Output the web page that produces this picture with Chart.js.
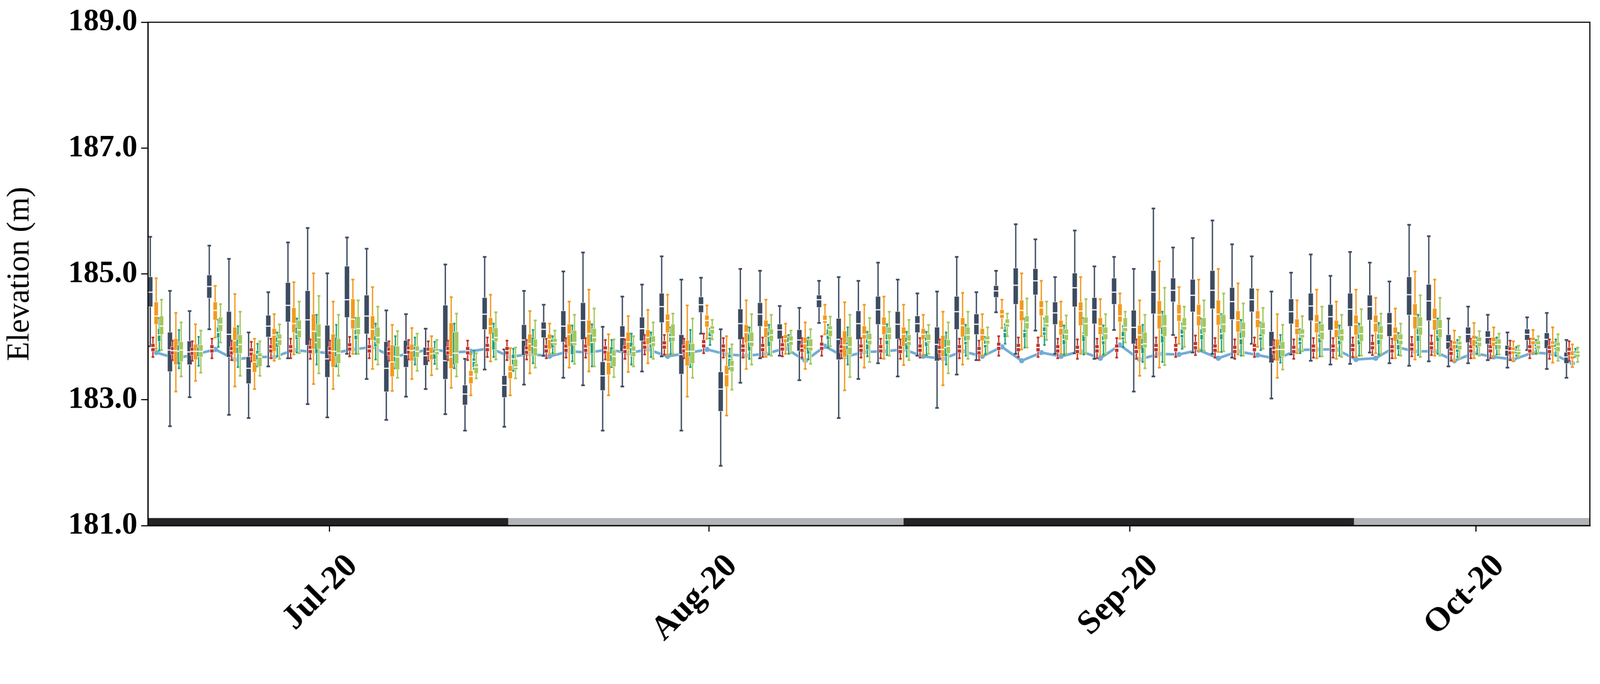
<!DOCTYPE html>
<html><head><meta charset="utf-8">
<script src="https://cdn.jsdelivr.net/npm/chart.js@4/dist/chart.umd.min.js"></script>
<style>html,body{margin:0;padding:0;background:#fff;overflow:hidden}#wrap{width:4262px;height:1751px;overflow:hidden;transform-origin:0 0}canvas{display:block}</style>
</head><body><div id="wrap"><canvas id="c" width="4262" height="1751"></canvas></div>
<script>
(function(){const w=document.getElementById('wrap');const s=Math.min(window.innerWidth/4262,window.innerHeight/1751);if(s&&Math.abs(s-1)>0.001)w.style.transform='scale('+s+')';})();
const monthTickPos=[9.1,28.4,49.8,67.4];
const monthLabels=['Jul-20','Aug-20','Sep-20','Oct-20'];
const yTicks=[181,183,185,187,189];
const bandStart=[-0.12,18.2,38.3,61.2];
const bandEnd=[18.2,38.3,61.2,73.2];
const bandColor=['#232325','#b1b3b7','#232325','#b1b3b7'];

const navyMax=[185.59,184.73,184.41,185.45,185.24,184.07,184.71,185.50,185.73,185.01,185.58,185.40,184.42,184.36,184.13,185.15,183.65,185.27,183.80,184.73,184.51,185.04,185.34,184.16,184.64,184.83,185.28,184.91,184.94,184.12,185.08,185.05,184.49,184.46,184.89,184.95,184.89,185.18,184.91,184.69,184.72,185.27,184.71,185.05,185.79,185.55,184.95,185.69,185.12,185.27,185.08,186.04,185.42,185.57,185.85,185.47,185.28,184.72,185.02,185.31,184.97,185.35,185.18,184.88,185.78,185.60,184.29,184.48,184.35,184.07,184.31,184.38,183.95];
const navyQ3=[184.95,184.07,183.93,184.98,184.40,183.68,184.34,184.86,184.73,184.18,185.12,184.66,183.92,183.94,183.83,184.50,183.23,184.62,183.38,184.19,184.23,184.41,184.54,183.60,184.17,184.31,184.69,184.03,184.63,183.44,184.44,184.54,184.20,184.11,184.66,184.29,184.41,184.64,184.40,184.33,184.15,184.64,184.36,184.81,185.09,185.08,184.55,185.01,184.62,184.93,184.42,185.05,184.93,184.91,185.05,184.78,184.77,184.08,184.60,184.69,184.51,184.69,184.66,184.38,184.95,184.83,184.03,184.15,184.09,183.86,184.12,184.06,183.75];
const navyMed=[184.71,183.79,183.76,184.80,184.04,183.50,184.17,184.50,184.27,183.65,184.59,184.33,183.50,183.72,183.70,183.62,183.09,184.36,183.23,183.95,184.12,184.17,184.26,183.38,183.99,184.13,184.48,183.72,184.51,183.17,184.21,184.36,184.11,183.95,184.59,183.96,184.21,184.43,184.20,184.21,183.88,184.40,184.20,184.73,184.82,184.89,184.38,184.78,184.43,184.71,184.15,184.71,184.74,184.66,184.74,184.56,184.59,183.84,184.40,184.49,184.32,184.44,184.48,184.21,184.67,184.57,183.92,184.04,183.99,183.79,184.04,183.96,183.68];
const navyQ1=[184.48,183.45,183.56,184.62,183.68,183.26,184.00,184.24,183.87,183.36,184.31,184.05,183.13,183.52,183.55,183.33,182.92,184.12,183.04,183.71,183.99,183.92,183.96,183.15,183.77,183.94,184.23,183.41,184.39,182.82,183.96,184.17,183.97,183.78,184.47,183.64,183.96,184.20,183.97,184.07,183.62,184.12,184.04,184.63,184.52,184.67,184.20,184.48,184.21,184.52,183.89,184.37,184.56,184.40,184.45,184.28,184.40,183.59,184.21,184.26,184.11,184.17,184.27,184.01,184.35,184.26,183.81,183.91,183.89,183.70,183.95,183.82,183.58];
const navyMin=[183.85,182.58,183.04,184.12,182.76,182.71,183.53,183.66,182.93,182.72,183.73,183.33,182.68,183.05,183.17,182.77,182.51,183.48,182.57,183.24,183.70,183.35,183.23,182.51,183.21,183.45,183.69,182.51,184.05,181.95,183.27,183.66,183.70,183.31,184.22,182.71,183.33,183.58,183.37,183.70,182.87,183.40,183.63,184.39,183.73,184.10,183.73,183.74,183.65,184.11,183.13,183.37,184.03,183.75,183.73,183.67,183.89,183.02,183.72,183.62,183.56,183.57,183.75,183.58,183.54,183.61,183.53,183.58,183.63,183.51,183.79,183.49,183.35];

const orangeMax=[184.93,184.38,184.20,184.81,184.68,183.97,184.36,184.87,185.01,184.56,184.91,184.79,184.19,184.14,184.01,184.63,183.72,184.67,183.82,184.41,184.21,184.56,184.75,184.04,184.33,184.43,184.67,184.50,184.50,184.01,184.58,184.59,184.21,184.23,184.51,184.55,184.51,184.64,184.51,184.35,184.40,184.70,184.36,184.59,185.01,184.89,184.56,184.95,184.60,184.69,184.58,185.20,184.79,184.91,185.08,184.85,184.75,184.36,184.58,184.75,184.56,184.75,184.62,184.45,185.04,184.91,184.10,184.22,184.15,183.93,184.11,184.15,183.88];
const orangeQ3=[184.55,183.97,183.88,184.55,184.15,183.73,184.13,184.46,184.36,184.04,184.60,184.33,183.87,183.88,183.83,184.22,183.46,184.30,183.54,184.04,184.04,184.20,184.26,183.77,184.07,184.11,184.36,183.94,184.34,183.54,184.19,184.26,184.03,183.99,184.34,184.09,184.17,184.31,184.15,184.13,184.02,184.30,184.13,184.43,184.58,184.57,184.26,184.55,184.30,184.52,184.18,184.57,184.51,184.51,184.58,184.41,184.41,183.96,184.28,184.35,184.26,184.34,184.34,184.15,184.52,184.45,183.93,184.02,183.99,183.83,183.99,183.93,183.77];
const orangeMed=[184.33,183.78,183.77,184.42,183.94,183.60,184.03,184.21,184.09,183.77,184.28,184.12,183.60,183.78,183.73,183.68,183.37,184.17,183.45,183.89,183.96,184.04,184.05,183.60,183.92,183.99,184.26,183.77,184.26,183.40,184.07,184.15,183.97,183.89,184.26,183.87,184.04,184.18,184.04,184.04,183.80,184.18,184.03,184.36,184.42,184.46,184.14,184.41,184.17,184.33,184.03,184.35,184.36,184.34,184.36,184.26,184.28,183.80,184.14,184.23,184.12,184.20,184.22,184.05,184.33,184.28,183.88,183.96,183.92,183.78,183.94,183.88,183.70];
const orangeQ1=[184.20,183.56,183.64,184.27,183.74,183.44,183.77,184.07,183.81,183.52,184.13,183.95,183.37,183.62,183.64,183.50,183.26,184.04,183.34,183.77,183.81,183.85,183.85,183.40,183.80,183.88,184.07,183.54,184.16,183.21,183.91,183.99,183.91,183.80,184.22,183.68,183.97,184.04,183.85,183.96,183.69,184.00,183.94,184.30,184.26,184.34,184.03,184.18,184.04,184.24,183.80,184.13,184.25,184.18,184.19,184.08,184.15,183.62,184.04,184.07,183.99,184.03,184.08,183.93,184.13,184.11,183.81,183.85,183.85,183.73,183.88,183.83,183.65];
const orangeMin=[183.81,183.13,183.30,183.99,183.21,183.17,183.62,183.72,183.25,183.17,183.73,183.49,183.14,183.33,183.39,183.19,183.07,183.61,183.07,183.42,183.73,183.51,183.45,183.07,183.44,183.58,183.72,183.05,183.97,182.75,183.49,183.68,183.73,183.49,184.04,183.15,183.51,183.65,183.55,183.72,183.23,183.56,183.70,184.14,183.80,184.01,183.73,183.73,183.70,183.97,183.38,183.51,183.89,183.78,183.76,183.72,183.84,183.35,183.74,183.66,183.65,183.68,183.74,183.66,183.64,183.70,183.61,183.66,183.69,183.61,183.74,183.59,183.52];

const tealMax=[184.30,184.11,184.00,184.27,184.17,183.89,184.07,184.29,184.35,184.19,184.30,184.21,184.01,183.99,183.92,184.21,183.78,184.21,183.81,184.11,184.01,184.18,184.20,183.95,184.05,184.07,184.15,184.11,184.13,183.81,184.15,184.19,184.03,183.99,184.19,184.15,184.08,184.20,184.08,184.08,184.07,184.19,184.00,184.20,184.29,184.29,184.18,184.30,184.18,184.17,184.19,184.40,184.21,184.29,184.36,184.27,184.23,184.03,184.12,184.23,184.18,184.21,184.22,184.06,184.35,184.29,183.95,183.99,183.99,183.84,183.95,183.96,183.81];
const tealQ3=[184.13,183.87,183.83,184.15,183.96,183.78,183.99,184.15,184.07,183.99,184.11,184.01,183.85,183.84,183.80,184.07,183.66,184.07,183.72,183.99,183.96,184.05,184.04,183.84,183.91,184.00,184.05,183.89,184.07,183.72,184.04,184.08,183.99,183.95,184.12,183.91,183.96,184.04,183.99,183.99,183.96,184.01,183.94,184.12,184.11,184.15,184.04,184.07,184.01,184.08,183.97,184.15,184.12,184.12,184.13,184.07,184.04,183.87,183.99,184.04,184.01,184.04,184.04,183.96,184.13,184.11,183.87,183.92,183.92,183.80,183.88,183.88,183.77];
const tealMed=[184.03,183.77,183.77,184.07,183.84,183.72,183.91,184.04,183.91,183.77,184.03,183.93,183.69,183.79,183.74,183.74,183.61,183.96,183.65,183.85,183.91,183.91,183.91,183.72,183.83,183.89,184.00,183.77,184.00,183.66,183.92,184.01,183.91,183.84,184.03,183.87,183.89,183.95,183.91,183.93,183.83,183.93,183.88,184.07,184.07,184.08,183.96,184.04,183.94,184.00,183.88,184.03,184.04,184.04,184.05,183.97,184.00,183.80,183.93,183.99,183.95,183.96,183.96,183.88,184.03,184.03,183.81,183.88,183.88,183.77,183.84,183.83,183.74];
const tealQ1=[183.93,183.56,183.69,183.99,183.74,183.64,183.84,183.96,183.74,183.69,183.96,183.85,183.61,183.68,183.65,183.56,183.52,183.80,183.56,183.73,183.83,183.72,183.74,183.61,183.74,183.83,183.92,183.69,183.96,183.53,183.78,183.85,183.85,183.73,183.96,183.80,183.80,183.88,183.80,183.85,183.69,183.88,183.83,183.99,183.99,184.03,183.88,183.93,183.88,183.96,183.74,183.91,183.99,183.96,183.96,183.88,183.95,183.66,183.88,183.91,183.88,183.88,183.88,183.80,183.93,183.93,183.76,183.83,183.80,183.74,183.81,183.80,183.72];
const tealMin=[183.78,183.50,183.54,183.84,183.52,183.53,183.69,183.75,183.56,183.53,183.73,183.64,183.50,183.56,183.57,183.50,183.49,183.68,183.46,183.58,183.74,183.61,183.53,183.52,183.56,183.68,183.73,183.52,183.87,183.49,183.65,183.72,183.73,183.64,183.83,183.56,183.69,183.71,183.69,183.71,183.56,183.70,183.73,183.89,183.83,183.87,183.72,183.72,183.72,183.84,183.60,183.60,183.81,183.78,183.76,183.70,183.79,183.59,183.74,183.69,183.70,183.70,183.72,183.71,183.71,183.73,183.68,183.73,183.72,183.70,183.73,183.70,183.68];

const lgMax=[184.59,184.23,184.10,184.52,184.40,183.93,184.20,184.56,184.65,184.35,184.58,184.48,184.09,184.05,183.95,184.37,183.74,184.39,183.83,184.26,184.10,184.35,184.45,183.96,184.01,184.23,184.37,184.29,184.27,183.88,184.36,184.35,184.10,184.12,184.32,184.35,184.30,184.40,184.27,184.19,184.23,184.40,184.15,184.37,184.61,184.56,184.34,184.60,184.36,184.40,184.35,184.78,184.48,184.58,184.69,184.53,184.46,184.19,184.33,184.48,184.35,184.44,184.37,184.21,184.66,184.62,184.00,184.09,184.05,183.86,184.01,184.04,183.83];
const lgQ3=[184.33,183.92,183.87,184.31,184.03,183.74,184.04,184.26,184.20,183.97,184.32,184.15,183.85,183.85,183.81,184.08,183.57,184.14,183.64,183.96,183.97,184.10,184.13,183.79,183.85,184.01,184.20,183.89,184.17,183.62,184.07,184.12,184.01,183.96,184.17,184.00,184.05,184.15,184.03,184.04,183.95,184.15,184.01,184.28,184.33,184.34,184.12,184.31,184.15,184.30,184.07,184.35,184.30,184.30,184.35,184.23,184.23,183.92,184.12,184.20,184.12,184.17,184.17,184.04,184.31,184.27,183.92,183.99,183.96,183.80,183.93,183.91,183.77];
const lgMed=[184.17,183.79,183.77,184.20,183.88,183.68,183.96,184.11,183.99,183.74,184.13,183.99,183.68,183.77,183.77,183.74,183.52,183.99,183.52,183.83,183.91,183.91,183.99,183.69,183.77,183.91,184.00,183.77,184.12,183.53,183.92,184.03,183.93,183.84,184.11,183.84,183.95,184.05,183.93,183.94,183.85,184.03,183.95,184.21,184.23,184.21,184.04,184.21,184.05,184.15,183.89,184.17,184.17,184.15,184.20,184.11,184.13,183.80,184.04,184.08,184.03,184.05,184.05,183.95,184.16,184.13,183.87,183.92,183.88,183.77,183.87,183.85,183.73];
const lgQ1=[184.04,183.61,183.68,184.09,183.74,183.53,183.87,183.99,183.81,183.58,184.04,183.89,183.48,183.68,183.72,183.58,183.42,183.93,183.48,183.70,183.87,183.87,183.92,183.53,183.69,183.85,183.93,183.58,184.05,183.45,183.85,183.93,183.87,183.78,184.01,183.72,183.88,183.96,183.87,183.91,183.74,183.95,183.89,184.16,184.13,184.16,183.95,184.01,183.96,184.09,183.83,184.01,184.11,184.07,184.07,183.99,184.04,183.69,183.99,183.96,183.94,183.93,183.96,183.88,184.03,183.99,183.80,183.85,183.81,183.72,183.81,183.77,183.68];
const lgMin=[183.79,183.37,183.43,183.91,183.38,183.38,183.65,183.74,183.42,183.38,183.73,183.56,183.35,183.46,183.49,183.37,183.34,183.64,183.34,183.51,183.73,183.57,183.53,183.36,183.53,183.65,183.73,183.35,183.96,183.16,183.56,183.70,183.74,183.57,183.85,183.36,183.60,183.70,183.63,183.73,183.42,183.65,183.74,184.01,183.83,183.95,183.73,183.74,183.73,183.91,183.50,183.55,183.84,183.78,183.77,183.70,183.81,183.48,183.77,183.69,183.68,183.70,183.73,183.70,183.68,183.70,183.65,183.70,183.72,183.68,183.74,183.62,183.60];

const redMax=[183.99,183.94,183.93,183.97,183.94,183.92,183.97,183.97,183.96,183.94,184.00,183.97,183.93,183.95,183.93,183.94,183.94,183.99,183.94,183.95,183.97,183.98,183.98,183.95,183.96,184.03,184.03,183.97,184.05,183.98,183.98,183.99,184.00,183.98,184.01,183.97,183.98,183.97,183.96,183.98,183.96,183.97,183.94,184.01,183.99,183.99,183.97,183.96,183.97,183.98,183.96,183.99,183.99,184.02,183.98,183.96,183.99,183.95,183.96,183.98,183.98,183.99,184.02,183.97,184.00,184.02,183.93,183.97,183.97,183.94,183.97,183.96,183.93];
const redQ3=[183.89,183.84,183.83,183.87,183.84,183.82,183.87,183.87,183.86,183.84,183.90,183.87,183.83,183.85,183.83,183.84,183.84,183.89,183.84,183.85,183.87,183.88,183.88,183.85,183.86,183.93,183.93,183.87,183.95,183.88,183.88,183.89,183.90,183.88,183.91,183.87,183.88,183.87,183.86,183.88,183.86,183.87,183.84,183.91,183.89,183.89,183.87,183.86,183.87,183.88,183.86,183.89,183.89,183.92,183.88,183.86,183.89,183.85,183.86,183.88,183.88,183.89,183.92,183.87,183.90,183.92,183.83,183.87,183.87,183.84,183.87,183.86,183.83];
const redMed=[183.83,183.78,183.77,183.81,183.78,183.76,183.81,183.81,183.80,183.78,183.84,183.81,183.77,183.79,183.77,183.78,183.78,183.83,183.78,183.79,183.81,183.82,183.82,183.79,183.80,183.87,183.87,183.81,183.89,183.82,183.82,183.83,183.84,183.82,183.85,183.81,183.82,183.81,183.80,183.82,183.80,183.81,183.78,183.85,183.83,183.83,183.81,183.80,183.81,183.82,183.80,183.83,183.83,183.86,183.82,183.80,183.83,183.79,183.80,183.82,183.82,183.83,183.86,183.81,183.84,183.86,183.77,183.81,183.81,183.78,183.81,183.80,183.77];
const redQ1=[183.77,183.72,183.71,183.75,183.72,183.70,183.75,183.75,183.74,183.72,183.78,183.75,183.71,183.73,183.71,183.72,183.72,183.77,183.72,183.73,183.75,183.76,183.76,183.73,183.74,183.81,183.81,183.75,183.83,183.76,183.76,183.77,183.78,183.76,183.79,183.75,183.76,183.75,183.74,183.76,183.74,183.75,183.72,183.79,183.77,183.77,183.75,183.74,183.75,183.76,183.74,183.77,183.77,183.80,183.76,183.74,183.77,183.73,183.74,183.76,183.76,183.77,183.80,183.75,183.78,183.80,183.71,183.75,183.75,183.72,183.75,183.74,183.71];
const redMin=[183.68,183.63,183.62,183.66,183.63,183.61,183.66,183.66,183.65,183.63,183.69,183.66,183.62,183.64,183.62,183.63,183.63,183.68,183.63,183.64,183.66,183.67,183.67,183.64,183.65,183.72,183.72,183.66,183.74,183.67,183.67,183.68,183.69,183.67,183.70,183.66,183.67,183.66,183.65,183.67,183.65,183.66,183.63,183.70,183.68,183.68,183.66,183.65,183.66,183.67,183.65,183.68,183.68,183.71,183.67,183.65,183.68,183.64,183.65,183.67,183.67,183.68,183.71,183.66,183.69,183.71,183.62,183.66,183.66,183.63,183.66,183.65,183.62];

const lineLevel=[183.75,183.66,183.72,183.80,183.64,183.68,183.68,183.79,183.76,183.74,183.80,183.84,183.68,183.74,183.81,183.75,183.77,183.82,183.68,183.73,183.69,183.77,183.75,183.80,183.74,183.80,183.69,183.74,183.80,183.72,183.70,183.73,183.82,183.62,183.85,183.68,183.76,183.77,183.80,183.69,183.65,183.77,183.69,183.84,183.62,183.75,183.69,183.77,183.66,183.87,183.64,183.73,183.72,183.79,183.66,183.77,183.71,183.65,183.79,183.80,183.80,183.64,183.66,183.84,183.77,183.77,183.62,183.74,183.68,183.64,183.75,183.73,183.58];

const series=[
 {off:0,    w:12, color:'#3d4b60', mn:navyMin, q1:navyQ1, md:navyMed, q3:navyQ3, mx:navyMax},
 {off:0.135,w:9,  color:'#c0322c', mn:redMin,  q1:redQ1,  md:redMed,  q3:redQ3,  mx:redMax},
 {off:0.30, w:10, color:'#f39a1e', mn:orangeMin,q1:orangeQ1,md:orangeMed,q3:orangeQ3,mx:orangeMax},
 {off:0.46, w:8,  color:'#17a084', mn:tealMin, q1:tealQ1, md:tealMed, q3:tealQ3, mx:tealMax},
 {off:0.57, w:10, color:'#a3c85b', mn:lgMin,   q1:lgQ1,   md:lgMed,   q3:lgQ3,   mx:lgMax}
];

const boxPlugin={id:'boxes',
 beforeDatasetsDraw(chart){
  const {ctx,scales:{x,y}}=chart;
  ctx.save();
  for(let k=0;k<bandStart.length;k++){
    const x0=x.getPixelForValue(bandStart[k]),x1=x.getPixelForValue(bandEnd[k]);
    const y0=y.getPixelForValue(181.12),y1=y.getPixelForValue(181);
    ctx.fillStyle=bandColor[k];ctx.fillRect(x0,y0,x1-x0,y1-y0);
  }
  ctx.restore();
 },
 afterDatasetsDraw(chart){
  const {ctx,scales:{x,y}}=chart;
  ctx.save();
  series.forEach(s=>{
    for(let i=0;i<s.md.length;i++){
      const px=x.getPixelForValue(i+s.off);
      const ymx=y.getPixelForValue(s.mx[i]),ymn=y.getPixelForValue(s.mn[i]);
      const yq3=y.getPixelForValue(s.q3[i]),yq1=y.getPixelForValue(s.q1[i]),ymd=y.getPixelForValue(s.md[i]);
      ctx.strokeStyle='#ffffff';ctx.lineWidth=6;
      ctx.beginPath();ctx.moveTo(px,ymx);ctx.lineTo(px,ymn);ctx.stroke();
      ctx.strokeStyle=s.color;ctx.lineWidth=3.5;
      ctx.beginPath();ctx.moveTo(px,ymx);ctx.lineTo(px,ymn);ctx.stroke();
      ctx.lineWidth=4.5;
      ctx.beginPath();ctx.moveTo(px-s.w*0.4,ymx);ctx.lineTo(px+s.w*0.4,ymx);
      ctx.moveTo(px-s.w*0.4,ymn);ctx.lineTo(px+s.w*0.4,ymn);ctx.stroke();
      ctx.fillStyle='#ffffff';
      ctx.fillRect(px-s.w/2-1,yq3-1,s.w+2,yq1-yq3+2);
      ctx.fillStyle=s.color;
      ctx.fillRect(px-s.w/2,yq3,s.w,yq1-yq3);
      ctx.strokeStyle='#ffffff';ctx.lineWidth=3;
      ctx.beginPath();ctx.moveTo(px-s.w/2-1,ymd);ctx.lineTo(px+s.w/2+1,ymd);ctx.stroke();
    }
  });
  ctx.restore();
 },
 afterDraw(chart){
  const {ctx,chartArea:a}=chart;
  ctx.save();ctx.strokeStyle='#000';ctx.lineWidth=3;
  ctx.strokeRect(a.left,a.top,a.right-a.left,a.bottom-a.top);ctx.restore();
 }
};

new Chart(document.getElementById('c'),{
 type:'line',
 data:{datasets:[{
   data:lineLevel.map((v,i)=>({x:i+0.30,y:v})),
   borderColor:'#72acd5',backgroundColor:'#72acd5',borderWidth:7,pointRadius:7,pointBorderWidth:0,tension:0
 }]},
 options:{
  responsive:false,maintainAspectRatio:false,animation:false,devicePixelRatio:1,
  layout:{padding:{top:54,right:27,left:0,bottom:0}},
  plugins:{legend:{display:false},tooltip:{enabled:false}},
  scales:{
   x:{type:'linear',min:-0.12,max:73.19,
      afterBuildTicks(s){s.ticks=monthTickPos.map(v=>({value:v}));},
      afterFit(s){s.height=351;},
      ticks:{autoSkip:false,maxRotation:45,minRotation:45,color:'#000',padding:40,labelOffset:62,
        font:{family:'Liberation Serif',size:90,weight:'bold'},
        callback(v){const k=monthTickPos.indexOf(v);return k>=0?monthLabels[k]:'';}},
      grid:{drawOnChartArea:false,drawTicks:true,tickLength:16,color:'#000',lineWidth:3},
      border:{display:true,color:'#000',width:3}},
   y:{min:181,max:189,
      afterBuildTicks(s){s.ticks=yTicks.map(v=>({value:v}));},
      afterFit(s){s.width=394;},
      ticks:{color:'#000',padding:10,font:{family:'Liberation Serif',size:82,weight:'bold'},
        callback(v){return v.toFixed(1);}},
      title:{display:true,text:'Elevation (m)',color:'#000',font:{family:'Liberation Serif',size:84},padding:{bottom:10}},
      grid:{drawOnChartArea:false,drawTicks:true,tickLength:18,color:'#000',lineWidth:3},
      border:{display:true,color:'#000',width:3}}
  }
 },
 plugins:[boxPlugin]
});
</script></body></html>
